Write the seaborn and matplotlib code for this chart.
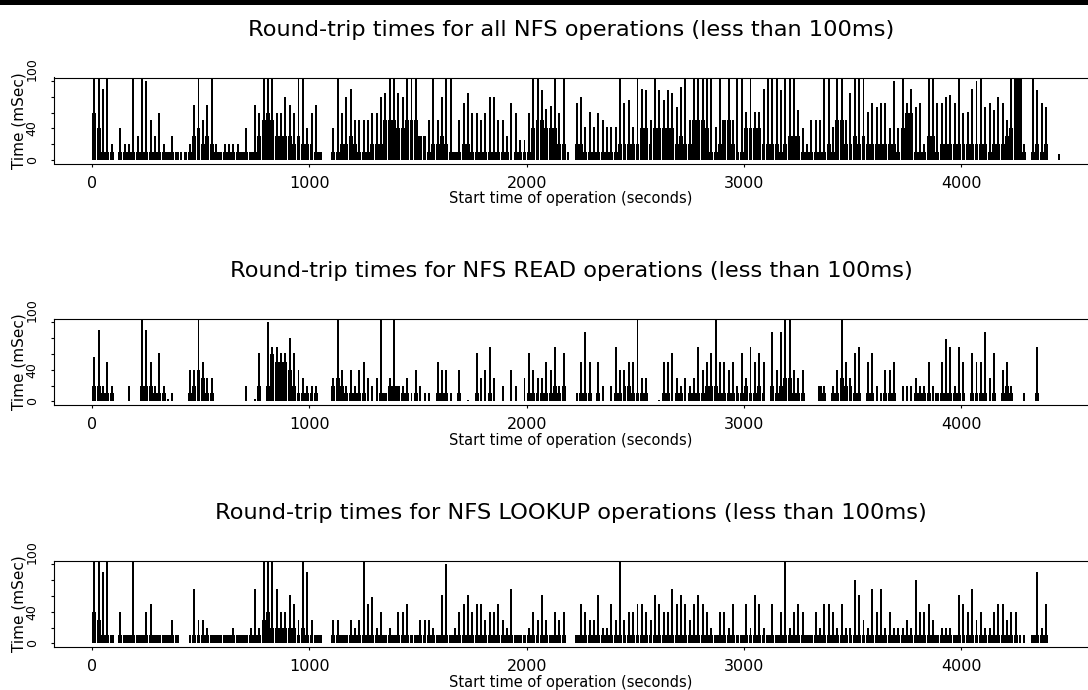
import numpy as np
import pandas as pd
import matplotlib
matplotlib.use("Agg")
import matplotlib.pyplot as plt
import seaborn as sns
from matplotlib.patches import Rectangle

# 20-second bins of operation start time (seconds)
bin_start = np.arange(0, 4460, 20)

# ---- All NFS operations: tallest round-trip per bin, and dense "solid" level (ms)
all_peak = [110,110,90,110,20,0,40,20,20,105,
            30,105,100,50,30,60,20,10,30,10,
            10,10,20,70,110,50,70,105,20,10,
            20,20,20,20,10,40,10,70,60,110,
            110,110,60,60,80,70,60,110,110,40,
            60,70,10,0,0,40,105,60,80,90,
            50,50,50,50,60,60,80,85,110,110,
            84,80,110,110,110,30,30,50,110,50,
            80,110,110,10,50,72,84,60,60,50,
            60,80,80,50,50,30,72,60,25,25,
            60,110,110,88,65,68,110,60,110,10,
            0,72,80,42,61,42,60,50,42,42,
            42,110,72,76,42,110,90,88,50,110,
            88,76,88,84,67,92,110,50,110,110,
            110,110,110,42,110,50,110,50,110,110,
            61,110,61,61,90,110,110,110,88,110,
            110,110,63,40,20,50,50,50,110,110,
            42,110,110,50,84,110,110,110,61,72,
            67,72,72,40,100,40,110,72,90,67,
            72,20,110,110,72,72,80,82,72,110,
            59,61,90,100,105,67,72,63,80,72,
            50,110,110,110,20,0,110,88,72,67,
            0,0,8]
all_base = [60,40,10,10,10,0,10,10,10,10,
            10,10,10,10,10,10,10,10,10,10,
            0,10,10,30,40,20,30,20,10,10,
            10,10,10,10,10,10,10,10,30,50,
            60,50,30,30,30,30,20,30,20,20,
            20,10,10,0,0,10,10,20,20,30,
            20,10,10,10,20,20,20,50,50,50,
            40,40,50,50,50,30,30,10,20,20,
            30,20,10,10,10,20,20,10,10,10,
            10,10,10,10,10,10,0,10,10,10,
            10,40,50,50,40,40,40,20,20,0,
            0,20,20,10,10,10,10,10,10,10,
            10,20,20,20,20,20,40,40,20,40,
            40,40,40,40,20,30,20,20,50,50,
            50,40,10,10,20,50,50,20,10,10,
            40,40,40,40,20,20,20,20,10,20,
            30,30,30,10,10,10,10,10,10,20,
            10,50,50,20,20,30,20,30,20,20,
            20,20,20,20,20,10,40,60,60,10,
            10,10,30,30,10,20,20,20,20,20,
            20,20,20,20,20,20,10,20,20,20,
            30,40,110,110,10,0,10,20,10,20,
            0,0,0]

# ---- NFS READ operations
read_peak = [56,90,20,50,20,0,0,0,20,0,
             0,110,90,50,20,61,20,3,10,0,
             0,0,40,40,110,50,30,30,0,0,
             0,0,0,0,0,20,0,3,61,0,
             100,69,69,61,61,80,61,40,30,20,
             20,20,0,0,0,30,110,40,20,40,
             20,40,50,30,20,30,110,10,30,110,
             20,20,30,10,40,20,10,10,0,50,
             40,40,10,0,40,0,2,0,61,30,
             40,69,30,0,20,0,40,20,0,30,
             61,40,30,30,50,40,69,20,61,0,
             0,10,50,88,50,0,50,20,0,20,
             69,40,40,50,50,110,30,30,0,0,
             2,50,50,61,30,20,30,20,30,69,
             40,50,61,110,50,50,40,50,20,61,
             30,69,50,61,50,0,88,40,88,110,
             110,40,30,40,0,0,0,20,20,0,
             20,40,110,50,30,61,69,0,50,61,
             20,10,40,40,50,0,20,20,20,30,
             20,20,50,20,10,50,79,69,20,69,
             50,0,61,50,50,88,30,61,0,40,
             50,20,0,0,10,0,0,69,0,0,
             0,0,0]
read_base = [20,20,10,10,10,0,0,0,0,0,
             0,20,20,20,10,10,10,0,0,0,
             0,0,10,20,40,30,10,10,0,0,
             0,0,0,0,0,0,0,0,20,0,
             20,60,50,50,50,40,20,10,10,10,
             10,10,0,0,0,20,30,20,10,10,
             10,10,10,0,0,0,10,10,20,20,
             20,10,10,0,10,0,0,0,0,10,
             10,10,0,0,10,0,0,0,10,0,
             0,10,0,0,0,0,0,0,0,0,
             10,10,10,10,10,10,20,10,20,0,
             0,0,10,10,10,0,10,0,0,0,
             10,10,20,20,10,10,10,10,0,0,
             0,10,10,0,10,10,0,10,10,10,
             10,20,20,20,10,10,10,10,10,10,
             20,10,10,20,10,0,20,10,20,30,
             30,10,10,10,0,0,0,20,10,0,
             10,10,30,20,20,10,10,0,10,10,
             0,0,10,10,10,0,0,0,0,10,
             10,10,10,0,10,10,10,10,10,10,
             10,0,10,10,10,10,0,10,0,10,
             20,10,0,0,0,0,0,10,0,0,
             0,0,0]

# ---- NFS LOOKUP operations
lookup_peak = [110,110,90,110,10,0,40,10,10,110,
               10,10,40,50,10,10,10,10,30,10,
               0,0,10,69,30,30,20,10,10,10,
               10,10,20,10,10,10,20,69,20,110,
               110,110,69,40,40,61,50,30,110,90,
               30,10,10,0,0,30,30,10,10,30,
               20,30,110,50,59,20,40,10,20,10,
               40,40,50,10,10,30,30,30,20,10,
               61,100,10,20,40,50,61,40,50,50,
               30,40,40,50,30,20,69,10,10,10,
               20,40,30,61,30,10,40,30,40,0,
               0,10,50,40,30,30,61,20,20,50,
               30,106,30,40,40,50,50,40,30,61,
               50,40,40,69,50,61,50,30,50,61,
               50,40,20,10,40,40,20,50,10,10,
               50,20,61,50,20,10,50,10,40,110,
               20,40,50,40,10,10,40,20,50,50,
               40,20,50,20,20,80,61,30,20,69,
               40,69,20,40,20,20,20,30,20,80,
               40,40,50,30,10,20,20,20,10,61,
               50,40,69,30,40,20,20,40,50,50,
               30,40,40,10,10,0,10,90,20,50,
               0,0,0]
lookup_base = [40,30,10,10,10,0,10,10,10,10,
               10,10,10,10,10,10,10,10,10,10,
               0,0,0,10,10,10,10,10,10,10,
               10,10,10,10,10,10,10,10,10,30,
               40,20,20,20,20,20,20,10,20,10,
               10,10,10,0,0,10,10,10,10,10,
               10,10,10,10,10,10,10,10,10,10,
               10,10,10,10,10,10,10,10,10,10,
               10,10,10,10,10,10,10,10,10,10,
               10,10,10,10,10,10,10,10,10,10,
               10,10,10,10,10,10,10,10,10,0,
               0,10,10,10,10,10,10,10,10,10,
               10,10,10,10,10,10,10,10,10,10,
               10,10,10,10,10,10,10,10,10,10,
               10,10,10,10,10,10,10,10,10,10,
               10,10,10,10,10,10,10,10,10,10,
               10,10,10,10,10,10,10,10,10,10,
               10,10,10,10,10,10,10,10,10,10,
               10,10,10,10,10,10,10,10,10,10,
               10,10,10,10,10,10,10,10,10,10,
               10,10,10,10,10,10,10,10,10,10,
               10,10,10,0,0,0,10,10,10,10,
               0,0,0]

titles = ["Round-trip times for all NFS operations (less than 100ms)",
          "Round-trip times for NFS READ operations (less than 100ms)",
          "Round-trip times for NFS LOOKUP operations (less than 100ms)"]
x_ticks = [0, 1000, 2000, 3000, 4000]
y_ticks = [0, 20, 40, 60, 80, 100]
y_ticklabels = ["0", "", "40", "", "", "100"]
x_label = "Start time of operation (seconds)"
y_label = "Time (mSec)"

sns.set_theme(style="ticks")
plt.rcParams['font.family'] = ['DejaVu Sans']

W, H = 1088, 690
fig = plt.figure(figsize=(W / 100, H / 100), dpi=100)
fig.patch.set_facecolor("white")
fig.patches.append(Rectangle((0, 1 - 4.5 / H), 1, 4.5 / H, transform=fig.transFigure,
                             facecolor="black", edgecolor="none"))

boxes = [(77.5, 163.5), (319, 404.5), (561, 646.5)]
left = 54
series = [(all_peak, all_base), (read_peak, read_base), (lookup_peak, lookup_base)]
t_end = int(bin_start[-1]) + 20

for (top, bottom), title, (peak, base) in zip(boxes, titles, series):
    ax = fig.add_axes([left / W, 1 - bottom / H, 1 - left / W, (bottom - top) / H])
    df = pd.DataFrame({"t": bin_start + 10, "peak": np.asarray(peak, float),
                       "base": np.asarray(base, float)})
    sns.histplot(data=df, x="t", weights="base", binwidth=20, binrange=(0, t_end),
                 shrink=0.9, color="black", alpha=1, edgecolor="none",
                 linewidth=0, ax=ax)
    sns.histplot(data=df, x="t", weights="peak", binwidth=20, binrange=(0, t_end),
                 shrink=0.45, color="black", alpha=1, edgecolor="none",
                 linewidth=0, ax=ax)
    ax.set_xlim(-175, 4583)
    ax.set_ylim(-4, 104)
    ax.set_facecolor("white")
    for s in ["top", "left", "bottom"]:
        ax.spines[s].set_visible(True)
        ax.spines[s].set_color("black")
        ax.spines[s].set_linewidth(0.8)
    ax.spines["right"].set_visible(False)
    ax.set_xticks(x_ticks)
    ax.set_xticklabels([str(v) for v in x_ticks])
    ax.set_yticks(y_ticks)
    ylabels = ax.set_yticklabels(y_ticklabels, rotation=90, va="center", ha="center")
    ylabels[-1].set_va("bottom")
    ax.tick_params(axis="x", length=2.2, width=0.8, pad=7, labelsize=11.5,
                   color="black", labelcolor="black", direction="out")
    ax.tick_params(axis="y", length=2.2, width=0.8, pad=13.5, labelsize=9,
                   color="black", labelcolor="black", direction="out")
    ax.set_xlabel(x_label, fontsize=10.5, color="black")
    ax.xaxis.set_label_coords(0.5, -35.5 / (bottom - top))
    ax.xaxis.label.set_va("center")
    ax.set_ylabel(y_label, fontsize=11, color="black")
    ax.yaxis.set_label_coords(-35 / (W - left), 0.5)
    ax.yaxis.label.set_va("center")
    ax.text(0.5, 1 + 48 / (bottom - top), title, transform=ax.transAxes,
            ha="center", va="center", fontsize=16.2, color="black")
    ax.grid(False)

fig.savefig("out.png", dpi=100, facecolor="white")
